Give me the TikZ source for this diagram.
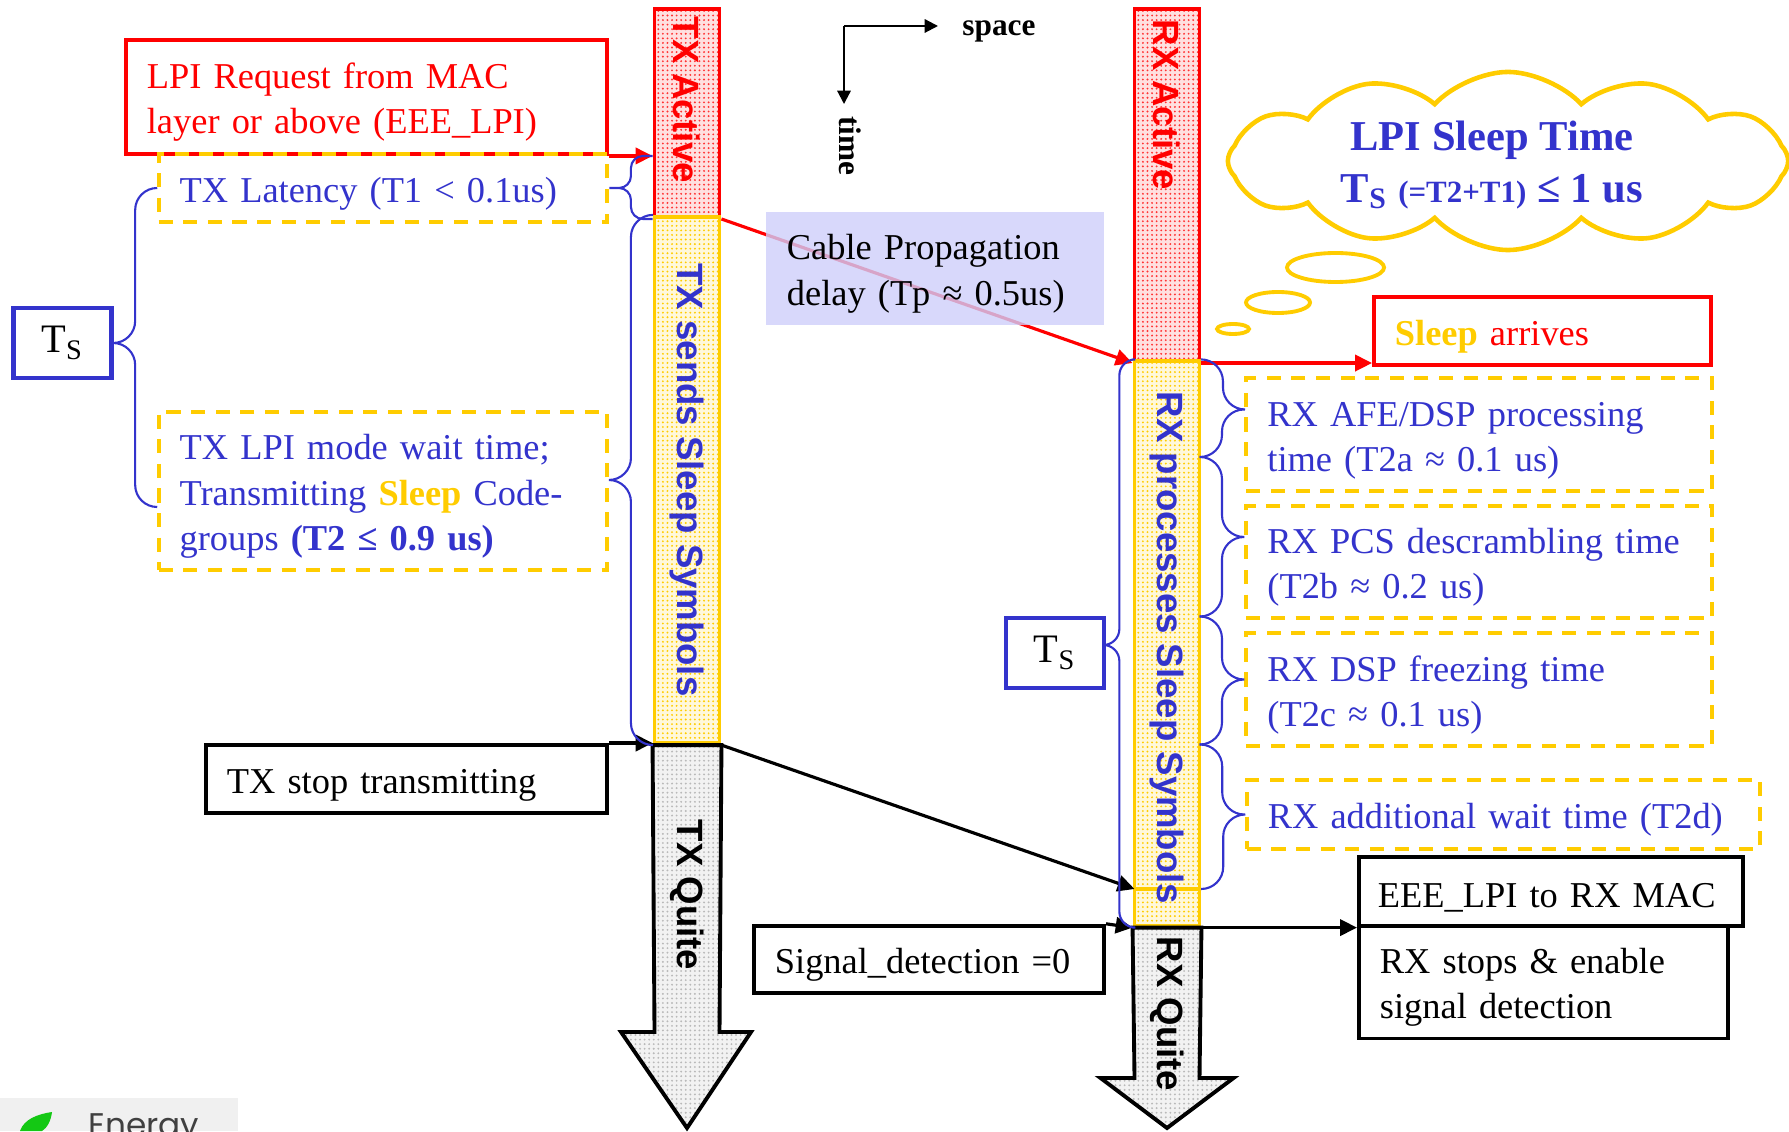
\documentclass[tikz,border=0pt]{standalone}
\usepackage{fontspec}
\setmainfont{Liberation Serif}
\setsansfont{Liberation Sans}
\newfontfamily\logofont{Poppins}
\usetikzlibrary{arrows.meta,positioning,shapes.geometric,shapes.symbols,patterns.meta,calc}
\definecolor{LPIred}{RGB}{255,0,0}
\definecolor{LPIgold}{RGB}{255,204,0}
\definecolor{LPIblue}{RGB}{51,51,204}
\definecolor{LPIlav}{RGB}{206,206,250}
\definecolor{LPIleaf}{RGB}{20,200,20}

\begin{document}
\begin{tikzpicture}[x=0.01cm, y=-0.01cm, every node/.style={font=\fontsize{10.35}{12.9}\selectfont},
  col/.style={line width=1.1pt, minimum width=0.65cm, inner sep=0pt},
  actcol/.style={col, draw=LPIred, preaction={fill=LPIred!12}, pattern={Dots[distance=1.3pt,radius=0.3pt]}, pattern color=LPIred!80},
  slpcol/.style={col, draw=LPIgold, preaction={fill=LPIgold!14}, pattern={Dots[distance=1.3pt,radius=0.3pt]}, pattern color=LPIgold},
  quite/.style={draw, line width=1.1pt, preaction={fill=gray!10}, pattern={Dots[distance=1.3pt,radius=0.3pt]}, pattern color=gray!55},
  collab/.style={rotate=-90, font=\sffamily\bfseries\fontsize{10.4}{12}\selectfont},
  txtbox/.style={line width=1.1pt, align=left, inner xsep=0.21cm, text height=10.3pt},
  redbox/.style={txtbox, draw=LPIred, text=LPIred},
  dashbox/.style={txtbox, draw=LPIgold, dash pattern=on 4pt off 3pt, text=LPIblue},
  blkbox/.style={txtbox, draw},
  tsbox/.style={draw=LPIblue, line width=1.2pt, minimum width=0.98cm, minimum height=0.7cm, font=\fontsize{11.5}{13}\selectfont},
  hbr/.style={draw=LPIblue, line width=0.6pt, rounded corners=#1, to path={let \p1=(\tikztostart), \p2=(\tikztotarget) in -- (\x1/2+\x2/2,\y1) -- (\x1/2+\x2/2,\y2) -- (\tikztotarget)}},
  hbr/.default=0.22cm,
  arr/.style={-{Triangle[length=4.8pt,width=4.6pt]}, line width=0.9pt},
  axarr/.style={-{Triangle[length=3.8pt,width=3.8pt]}, line width=0.6pt},
  bub/.style={ellipse, draw=LPIgold, line width=1.1pt, inner sep=0pt}]
\useasboundingbox (0,0) rectangle (1789,1131);
\clip (0,0) rectangle (1789,1131);
\node[actcol, minimum height=2.08cm] (txa) at (687,113) {};
\node[slpcol, minimum height=5.26cm] (txs) at (687,480) {};
\node[actcol, minimum height=3.52cm] (rxa) at (1167,185) {};
\node[slpcol, minimum height=5.64cm] (rxs) at (1167,643.5) {};
\draw[quite] (txs.south west) -- (txs.south east) -- (719.5,1032) -- (751,1032) -- (687,1128) -- (621,1032) -- (654.5,1032) -- cycle;
\draw[quite] (rxs.south west) -- (rxs.south east) -- (1199.5,1078) -- (1233.5,1078) -- (1167,1128) -- (1100.5,1078) -- (1134.5,1078) -- cycle;
\coordinate (r1) at (1199.5,457);
\coordinate (r2) at (1199.5,616.5);
\coordinate (r3) at (1199.5,744.5);
\coordinate (t2d) at (1134.5,889);
\draw[LPIgold, line width=1.1pt] (t2d) -- (t2d -| rxs.east);
\node[collab, text=LPIred] (txal) at (687,100) {TX Active};
\node[collab, text=LPIblue] (txsl) at (687,480) {TX sends Sleep Symbols};
\node[collab] (txql) at (687,895) {TX Quite};
\node[collab, text=LPIred] (rxal) at (1167,105) {RX Active};
\node[collab, text=LPIblue] (rxsl) at (1167,648) {RX processes Sleep Symbols};
\node[collab] (rxql) at (1167,1014) {RX Quite};

\coordinate (ax) at (844,26);
\node[anchor=west, font=\bfseries\fontsize{8.9}{10}\selectfont] (spc) at (950,31) {space};
\node[rotate=-90, font=\bfseries\fontsize{8.9}{10}\selectfont] (tim) at (850,146) {time};
\draw[axarr, shorten >=0.12cm] (ax) -- (ax -| spc.west);
\draw[axarr] (ax) -- (ax |- tim.west);

\node[redbox, text width=4.39cm, minimum height=1.14cm] (lpi) at (366.5,97) {LPI Request from MAC\\layer or above (EEE\_LPI)};
\node[dashbox, text width=4.065cm, minimum height=0.68cm] (lat) at (383,188) {TX Latency (T1 < 0.1us)};
\node[dashbox, text width=4.065cm, minimum height=1.58cm] (lpm) at (383,491) {TX LPI mode wait time;\\Transmitting \textcolor{LPIgold}{\textbf{Sleep}} Code-\\groups \textbf{(T2 ≤ 0.9 us)}};
\node[tsbox] (tsl) at (62.5,343) {T\textsubscript{S}};
\node[blkbox, text width=3.59cm, minimum height=0.68cm] (stp) at (406.5,779) {TX stop transmitting};
\node[blkbox, text width=3.08cm, minimum height=0.67cm] (sig) at (929,959.5) {Signal\_detection =0};
\node[tsbox] (tsr) at (1055,653) {T\textsubscript{S}};
\node[redbox, text width=2.95cm, minimum height=0.68cm] (slp) at (1542.5,331) {\textcolor{LPIgold}{\textbf{Sleep}} arrives};
\node[dashbox, text width=4.23cm, minimum height=1.13cm] (afe) at (1479,434.5) {RX AFE/DSP processing\\time (T2a ≈ 0.1 us)};
\node[dashbox, text width=4.23cm, minimum height=1.12cm] (pcs) at (1479,562) {RX PCS descrambling time\\(T2b ≈ 0.2 us)};
\node[dashbox, text width=4.23cm, minimum height=1.13cm] (frz) at (1479,689.5) {RX DSP freezing time\\(T2c ≈ 0.1 us)};
\node[dashbox, text width=4.71cm, minimum height=0.69cm] (add) at (1503.5,814.5) {RX additional wait time (T2d)};
\node[blkbox, text width=3.46cm, inner xsep=0.19cm, minimum height=0.69cm] (eee) at (1551,891.5) {EEE\_LPI to RX MAC};
\node[blkbox, text width=3.27cm, minimum height=1.12cm] (rxst) at (1543.5,982) {RX stops \& enable\\signal detection};

\draw[arr, LPIred] (txa.south east) -- (rxa.south west);
\node[fill=LPIlav, fill opacity=0.8, text opacity=1, align=left, text width=2.96cm, inner xsep=0.21cm, text height=10.3pt, minimum height=1.09cm] (cab) at (935,268.5) {Cable Propagation\\delay (Tp ≈ 0.5us)};

\node[cloud, cloud puffs=12, cloud puff arc=95, aspect=3.2, draw=LPIgold, line width=1.3pt, minimum width=5.6cm, minimum height=1.78cm] (cld) at (1508,161) {};
\node[text=LPIblue, align=center, font=\bfseries\fontsize{12.1}{14.7}\selectfont] (cldt) at (1492,165) {LPI Sleep Time\\T\textsubscript{S} {\fontsize{8.8}{10}\selectfont(=T2+T1)} ≤ 1 us};
\node[bub, minimum width=0.97cm, minimum height=0.29cm] (bb1) at (1335.5,267.5) {};
\node[bub, minimum width=0.64cm, minimum height=0.21cm] (bb2) at (1278,302.5) {};
\node[bub, minimum width=0.32cm, minimum height=0.10cm] (bb3) at (1233,329) {};

\draw[arr, LPIred] (lpi.south east) -- (lpi.south east -| txa.west);
\draw[arr, LPIred] (rxa.south east) -- (rxa.south east -| slp.west);
\draw[arr] (stp.north east) -- (stp.north east -| txs.west);
\draw[arr] (txs.south east) -- (t2d);
\draw[arr] (sig.north east) -- (rxs.south west);
\draw[arr] (rxs.south east) -- (rxs.south east -| eee.west);

\draw[hbr=0.12cm] (lat.east) to (lpi.south east -| txa.west) (lat.east) to (txa.south west);
\draw[hbr] ([yshift=0.11cm]lpm.east) to (txs.north west) ([yshift=0.11cm]lpm.east) to (txs.south west);
\draw[hbr] (tsl.east) to (lat.west) (tsl.east) to ([yshift=-0.16cm]lpm.west);
\draw[hbr=0.16cm] ([yshift=0.08cm]tsr.east) to (rxs.north west) ([yshift=0.08cm]tsr.east) to (rxs.south west);
\draw[hbr] ([yshift=0.25cm]afe.west) to (rxs.north east) ([yshift=0.25cm]afe.west) to (r1);
\draw[hbr] ([yshift=0.25cm]pcs.west) to (r1) ([yshift=0.25cm]pcs.west) to (r2);
\draw[hbr] ([yshift=0.1cm]frz.west) to (r2) ([yshift=0.1cm]frz.west) to (r3);
\draw[hbr] (add.west) to (r3) (add.west) to (t2d -| rxs.east);

\fill[black!6] (0,1098) rectangle (238,1131);
\fill[LPIleaf] (20,1131) .. controls (24,1119) and (38,1114) .. (52,1112) .. controls (51,1121) and (47,1128) .. (42,1131) -- cycle;
\node[anchor=base west, font=\logofont\fontsize{9.3}{11}\selectfont, text=black!75, inner sep=0pt] (nrg) at (88,1136) {Energy};
\end{tikzpicture}
\end{document}
